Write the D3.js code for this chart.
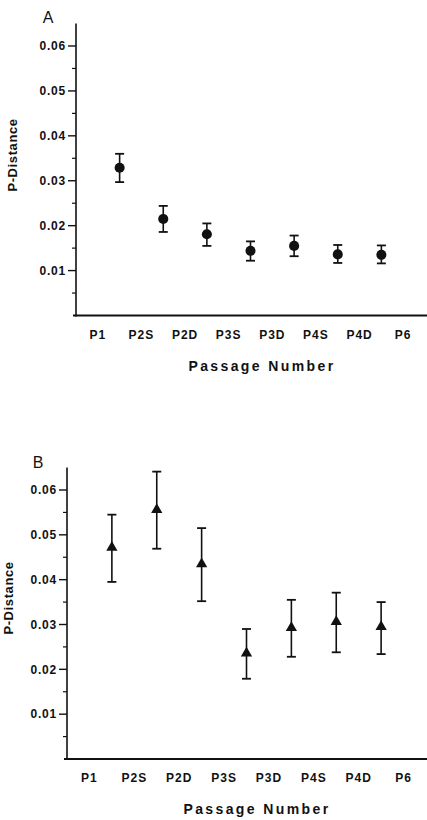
<!DOCTYPE html>
<html lang="en">
<head>
<meta charset="UTF-8">
<script src="https://cdn.jsdelivr.net/npm/d3@7/dist/d3.min.js"></script>
<style>
    html, body { margin: 0; padding: 0; background: #fff; }
    svg { display: block; font-family: "Liberation Sans", Arial, sans-serif; }
    .tick-label { font-size: 12px; font-weight: bold; letter-spacing: 0.8px; fill: #111; }
    .cat-label { font-size: 12px; font-weight: bold; letter-spacing: 1px; fill: #111; }
    .x-title { font-size: 14px; font-weight: bold; letter-spacing: 2.4px; fill: #111; }
    .y-title { font-size: 13px; font-weight: bold; letter-spacing: 0.6px; fill: #111; }
    .panel-letter { font-size: 16px; fill: #111; }
</style>
<title>P-Distance by passage</title>
</head>
<body>
<div id="chart"></div>
<script>
    // passages along the x axis
    const categories = ["P1", "P2S", "P2D", "P3S", "P3D", "P4S", "P4D", "P6"];

    // panel A: p-distance between consecutive passages (circles)
    const meanA = [0.0329, 0.0215, 0.0181, 0.0144, 0.0155, 0.0136, 0.0135];
    const lowA  = [0.0297, 0.0186, 0.0155, 0.0122, 0.0132, 0.0117, 0.0116];
    const highA = [0.0360, 0.0244, 0.0205, 0.0165, 0.0178, 0.0157, 0.0156];

    // panel B: (triangles)
    const meanB = [0.0472, 0.0556, 0.0435, 0.0236, 0.0293, 0.0306, 0.0295];
    const lowB  = [0.0395, 0.0469, 0.0352, 0.0179, 0.0228, 0.0238, 0.0234];
    const highB = [0.0545, 0.0641, 0.0515, 0.0290, 0.0355, 0.0371, 0.0350];

    const yTicks = [0.01, 0.02, 0.03, 0.04, 0.05, 0.06];
    const yMinorTicks = [0.005, 0.015, 0.025, 0.035, 0.045, 0.055];

    const W = 427, H = 820;

    const svg = d3.select("#chart")
        .append("svg")
        .attr("width", W)
        .attr("height", H);

    const drawPanel = (cfg) => {
        const g = svg.append("g");

        const x = d3.scaleBand()
            .domain(categories)
            .range([cfg.left, cfg.right])
            .padding(0);

        const y = d3.scaleLinear()
            .domain([0, 0.06])
            .range([cfg.zeroY, cfg.topTickY]);

        // y axis line
        g.append("line")
            .attr("x1", cfg.left).attr("x2", cfg.left)
            .attr("y1", y(0) + 1).attr("y2", y(0.065))
            .attr("stroke", "#111").attr("stroke-width", 1.6);

        // x axis line
        g.append("line")
            .attr("x1", cfg.left - 3).attr("x2", W)
            .attr("y1", y(0)).attr("y2", y(0))
            .attr("stroke", "#111").attr("stroke-width", 2);

        // major ticks
        g.selectAll(".major").data(yTicks).join("line")
            .attr("class", "major")
            .attr("x1", cfg.left - 8).attr("x2", cfg.left)
            .attr("y1", d => y(d)).attr("y2", d => y(d))
            .attr("stroke", "#111").attr("stroke-width", 1.4);

        // minor ticks
        g.selectAll(".minor").data(yMinorTicks).join("line")
            .attr("class", "minor")
            .attr("x1", cfg.left - 4).attr("x2", cfg.left)
            .attr("y1", d => y(d)).attr("y2", d => y(d))
            .attr("stroke", "#111").attr("stroke-width", 1.2);

        g.selectAll(".tick-label").data(yTicks).join("text")
            .attr("class", "tick-label")
            .attr("x", cfg.left - 10)
            .attr("y", d => y(d))
            .attr("dy", "0.35em")
            .attr("text-anchor", "end")
            .text(d3.format(".2f"));

        // category labels
        const xAxis = d3.axisBottom(x).tickSize(0).tickPadding(0);
        const xa = g.append("g")
            .attr("transform", `translate(0, ${y(0)})`)
            .call(xAxis);
        xa.select(".domain").remove();
        xa.selectAll("text")
            .attr("class", "cat-label")
            .attr("font-family", null)
            .attr("font-size", null)
            .attr("fill", null)
            .attr("dy", null)
            .attr("y", 23);

        g.append("text")
            .attr("class", "x-title")
            .attr("x", cfg.xTitleX)
            .attr("y", y(0) + 55)
            .attr("text-anchor", "middle")
            .text("Passage Number");

        g.append("text")
            .attr("class", "y-title")
            .attr("transform", `translate(${cfg.yTitleX}, ${cfg.yTitleY}) rotate(-90)`)
            .attr("text-anchor", "middle")
            .text("P-Distance");

        g.append("text")
            .attr("class", "panel-letter")
            .attr("x", cfg.letterX)
            .attr("y", cfg.letterY)
            .attr("text-anchor", "middle")
            .text(cfg.letter);

        // points sit between consecutive passages
        const px = i => (x(categories[i]) + x(categories[i + 1])) / 2 + x.bandwidth() / 2;
        const rows = cfg.mean.map((m, i) => ({ i, m, lo: cfg.low[i], hi: cfg.high[i] }));

        const bars = g.selectAll(".err").data(rows).join("g").attr("class", "err");
        bars.append("line")
            .attr("x1", d => px(d.i)).attr("x2", d => px(d.i))
            .attr("y1", d => y(d.lo)).attr("y2", d => y(d.hi))
            .attr("stroke", "#111").attr("stroke-width", 1.6);
        bars.append("line")
            .attr("x1", d => px(d.i) - 4.5).attr("x2", d => px(d.i) + 4.5)
            .attr("y1", d => y(d.lo)).attr("y2", d => y(d.lo))
            .attr("stroke", "#111").attr("stroke-width", 1.8);
        bars.append("line")
            .attr("x1", d => px(d.i) - 4.5).attr("x2", d => px(d.i) + 4.5)
            .attr("y1", d => y(d.hi)).attr("y2", d => y(d.hi))
            .attr("stroke", "#111").attr("stroke-width", 1.8);

        const sym = d3.symbol().type(cfg.symbol).size(cfg.symbolSize);
        g.selectAll(".mark").data(rows).join("path")
            .attr("class", "mark")
            .attr("d", sym)
            .attr("transform", d => `translate(${px(d.i)}, ${y(d.m)})`)
            .attr("fill", "#111");
    };

    drawPanel({
        letter: "A", letterX: 48, letterY: 23,
        left: 76, right: 425, zeroY: 315.5, topTickY: 46,
        xTitleX: 262, yTitleX: 17, yTitleY: 155,
        mean: meanA, low: lowA, high: highA,
        symbol: d3.symbolCircle, symbolSize: 80
    });

    drawPanel({
        letter: "B", letterX: 38, letterY: 468,
        left: 67, right: 426, zeroY: 759, topTickY: 490,
        xTitleX: 257, yTitleX: 13, yTitleY: 598,
        mean: meanB, low: lowB, high: highB,
        symbol: d3.symbolTriangle, symbolSize: 55
    });
</script>
</body>
</html>
